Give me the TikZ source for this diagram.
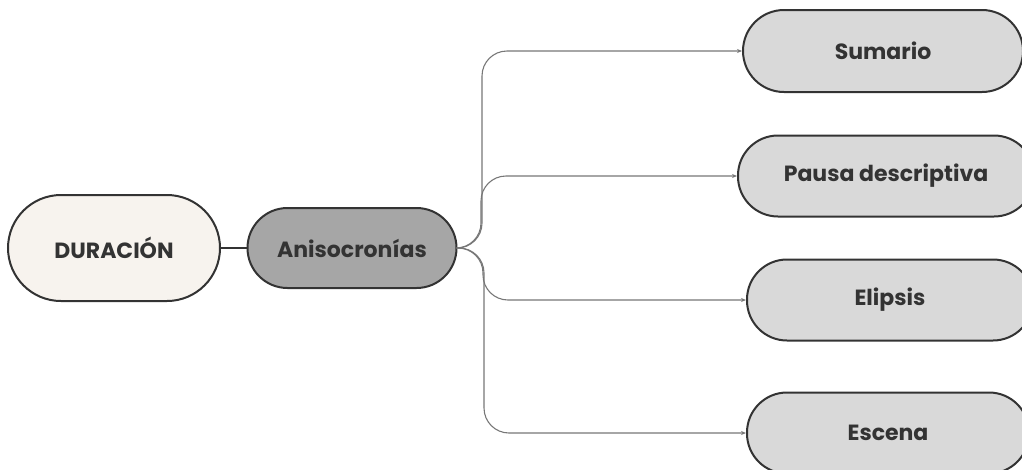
\documentclass[tikz,border=0pt]{standalone}
\usepackage{fontspec}
\setmainfont{Poppins}
\usetikzlibrary{arrows.meta}
\definecolor{edge}{HTML}{333333}
\definecolor{cream}{HTML}{F7F3EE}
\definecolor{midgray}{HTML}{A6A6A6}
\definecolor{lightgray}{HTML}{D9D9D9}
\definecolor{linkgray}{HTML}{777777}
\definecolor{txt}{HTML}{333333}
\begin{document}
\begin{tikzpicture}[x=1pt,y=1pt,
  pill/.style={draw=edge, line width=2pt, inner sep=0pt, text=txt,
    font=\fontsize{22}{26}\selectfont\bfseries},
  link/.style={draw=linkgray, line width=1.1pt, rounded corners=25pt,
    -{Stealth[length=5pt,width=4pt]}}]
\useasboundingbox (0,0) rectangle (1022,-469);
\clip (0,0) rectangle (1022,-469);
\node[pill, fill=cream, minimum width=212pt, minimum height=106pt, rounded corners=53pt] (dur) at (114,-248) {DURACIÓN};
\node[pill, fill=midgray, minimum width=209pt, minimum height=80pt, rounded corners=40pt] (ani) at (352,-248) {Anisocronías};
\node[pill, fill=lightgray, minimum width=280pt, minimum height=82pt, rounded corners=41pt] (sum) at (883,-51) {Sumario};
\node[pill, fill=lightgray, minimum width=296pt, minimum height=81pt, rounded corners=40pt] (pau) at (886,-176) {Pausa descriptiva};
\node[pill, fill=lightgray, minimum width=286pt, minimum height=81pt, rounded corners=40pt] (eli) at (890,-300) {Elipsis};
\node[pill, fill=lightgray, minimum width=282pt, minimum height=81pt, rounded corners=40pt] (esc) at (888,-433) {Escena};
\draw[draw=edge, line width=1.1pt] (dur) -- (ani);
\draw[link] (ani.east) -| (482,-51) -- (sum.west);
\draw[link] (ani.east) -| (481,-176) -- (pau.west);
\draw[link] (ani.east) -| (483,-300) -- (eli.west);
\draw[link] (ani.east) -| (484,-433) -- (esc.west);
\end{tikzpicture}
\end{document}
